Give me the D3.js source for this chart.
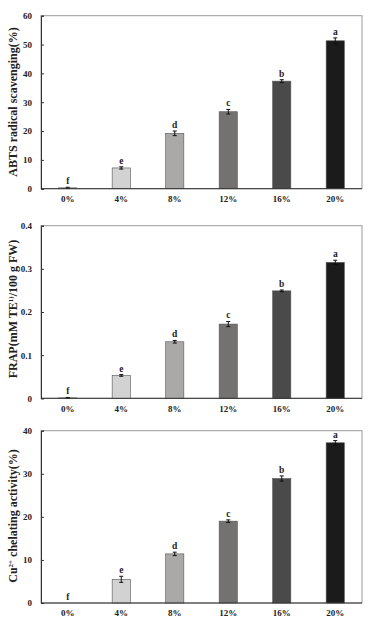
<!DOCTYPE html>
<html><head><meta charset="utf-8">
<script src="https://cdn.jsdelivr.net/npm/d3@7"></script>
<style>body{margin:0;background:#fff}svg{display:block}</style>
</head><body>
<script>
const categories = ["0%","4%","8%","12%","16%","20%"];
const barColors = ["#e4e4e4","#d2d2d2","#aba9a7","#747271","#4a4a4a","#1b1b1b"];
const abtsValues = [0.3, 7.2, 19.2, 26.7, 37.3, 51.3];
const abtsErrors = [0.2, 0.4, 0.8, 0.8, 0.5, 1.0];
const abtsLetters = ["f","e","d","c","b","a"];
const abtsTicks = [0,10,20,30,40,50,60];
const frapValues = [0.001, 0.053, 0.131, 0.172, 0.249, 0.315];
const frapErrors = [0.001, 0.002, 0.003, 0.006, 0.002, 0.005];
const frapLetters = ["f","e","d","c","b","a"];
const frapTicks = [0,0.1,0.2,0.3,0.4];
const cuValues = [0, 5.5, 11.4, 19.0, 28.9, 37.2];
const cuErrors = [0, 0.7, 0.4, 0.3, 0.6, 0.5];
const cuLetters = ["f","e","d","c","b","a"];
const cuTicks = [0,10,20,30,40];

const W = 368, H = 617;
const svg = d3.select("body").append("svg").attr("width", W).attr("height", H);
const font = "'Liberation Serif','Times New Roman',serif";

function panel(cfg){
  const x = d3.scaleBand().domain(categories).range([41, 362]).paddingInner(0.66).paddingOuter(0.33);
  const y = d3.scaleLinear().domain([0, cfg.max]).range([cfg.bottom, cfg.top]);
  const g = svg.append("g");
  g.append("rect").attr("x",41).attr("y",cfg.top).attr("width",321).attr("height",cfg.bottom-cfg.top)
    .attr("fill","none").attr("stroke","#9a9a9a").attr("stroke-width",1);
  g.selectAll("rect.bar").data(categories).join("rect").attr("class","bar")
    .attr("x", d=>x(d)).attr("width", x.bandwidth())
    .attr("y", (d,i)=>y(cfg.values[i])).attr("height",(d,i)=>cfg.bottom - y(cfg.values[i]))
    .attr("fill",(d,i)=>barColors[i]).attr("stroke","#555").attr("stroke-width",0.6);
  categories.forEach((c,i)=>{
    const cx = x(c)+x.bandwidth()/2;
    const v = cfg.values[i], e = cfg.errors[i];
    if(e>0){
      g.append("line").attr("x1",cx).attr("x2",cx).attr("y1",y(v+e)).attr("y2",y(v-e)).attr("stroke","#111").attr("stroke-width",1);
      [v+e,v-e].forEach(t=>g.append("line").attr("x1",cx-2).attr("x2",cx+2).attr("y1",y(t)).attr("y2",y(t)).attr("stroke","#111").attr("stroke-width",1));
    }
    g.append("text").attr("x",cx).attr("y",y(v+e)-3).attr("text-anchor","middle")
      .attr("font-family",font).attr("font-weight","bold").attr("font-size",9.5).attr("fill","#222").text(cfg.letters[i]);
  });
  const ya = d3.axisLeft(y).tickValues(cfg.ticks).tickSize(-3).tickPadding(9).tickFormat(cfg.fmt);
  const yg = g.append("g").attr("transform","translate(41,0)").call(ya);
  yg.select(".domain").attr("stroke","#333");
  yg.selectAll(".tick line").attr("stroke","#333");
  yg.selectAll("text").attr("font-family",font).attr("font-weight","bold").attr("font-size",9).attr("fill","#222");
  const xa = d3.axisBottom(x).tickSize(0).tickPadding(7);
  const xg = g.append("g").attr("transform",`translate(0,${cfg.bottom})`).call(xa);
  xg.select(".domain").attr("stroke","#333").attr("d",`M41,0H362`);
  xg.selectAll("text").attr("font-family",font).attr("font-weight","bold").attr("font-size",9).attr("fill","#222");
  const t = g.append("text").attr("transform",`translate(17,${cfg.titleY}) rotate(-90)`).attr("text-anchor","middle")
    .attr("font-family",font).attr("font-weight","bold").attr("font-size",12).attr("fill","#222");
  cfg.title(t);
}

panel({values:abtsValues, errors:abtsErrors, letters:abtsLetters, ticks:abtsTicks, max:60, top:15.7, bottom:188.7,
  fmt:d3.format("d"), titleY:102, title:t=>t.text("ABTS radical scavenging(%)")});
panel({values:frapValues, errors:frapErrors, letters:frapLetters, ticks:frapTicks, max:0.4, top:225.7, bottom:398.3,
  fmt:d=>d===0?"0":d3.format(".1f")(d), titleY:309, title:t=>{
    t.append("tspan").text("FRAP(mM TE");
    t.append("tspan").attr("dy",-4).attr("font-size",7).text("1)");
    t.append("tspan").attr("dy",4).text("/100 g FW)");
  }});
panel({values:cuValues, errors:cuErrors, letters:cuLetters, ticks:cuTicks, max:40, top:430.7, bottom:603,
  fmt:d3.format("d"), titleY:516, title:t=>{
    t.append("tspan").text("Cu");
    t.append("tspan").attr("dy",-4).attr("font-size",7).text("2+");
    t.append("tspan").attr("dy",4).text(" chelating activity(%)");
  }});
</script>
</body></html>
